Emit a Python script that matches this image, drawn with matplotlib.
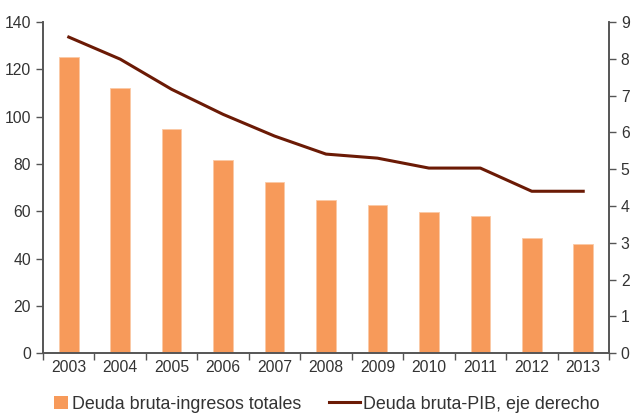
import numpy as np
import matplotlib.pyplot as plt
from matplotlib.lines import Line2D
from matplotlib.patches import Patch

plt.rcParams['font.family'] = ['Liberation Sans', 'DejaVu Sans']

years = ['2003', '2004', '2005', '2006', '2007', '2008', '2009', '2010', '2011', '2012', '2013']
deuda_ingresos = [125.2, 112.1, 94.8, 81.6, 72.3, 64.7, 62.8, 59.5, 58.1, 48.5, 46.0]
deuda_pib = [8.59, 7.99, 7.17, 6.49, 5.90, 5.41, 5.30, 5.03, 5.03, 4.40, 4.40]

bar_color = '#F79A5A'
line_color = '#6B1A05'
axis_color = '#555555'
text_color = '#333333'

fig = plt.figure(figsize=(6.33, 4.15), dpi=100)
ax = fig.add_axes([0.068, 0.149, 0.894, 0.798])
x = np.arange(len(years))

ax.bar(x, deuda_ingresos, width=0.38, color=bar_color, edgecolor='#FBC9A5', linewidth=0.6, zorder=2)
ax.set_xlim(-0.5, len(years) - 0.5)
ax.set_ylim(0, 140)
ax.set_yticks(range(0, 141, 20))
ax.set_xticks(x)
ax.set_xticklabels(years)
ax.set_xticks(np.arange(-0.5, len(years), 1), minor=True)
ax.tick_params(axis='x', which='major', length=0, pad=5, labelsize=11.3, labelcolor=text_color)
ax.tick_params(axis='x', which='minor', length=5, direction='out', color=axis_color, width=1)
ax.tick_params(axis='y', length=5, direction='out', color=axis_color, width=1, labelsize=11.3, labelcolor=text_color)

ax2 = ax.twinx()
ax2.plot(x, deuda_pib, color=line_color, linewidth=2.2, zorder=3)
ax2.set_ylim(0, 9)
ax2.set_yticks(range(0, 10))
ax2.tick_params(axis='y', length=5, direction='out', color=axis_color, width=1, labelsize=11.3, labelcolor=text_color)

for a in (ax, ax2):
    a.spines['top'].set_visible(False)
    for s in ('left', 'right', 'bottom'):
        a.spines[s].set_color(axis_color)
        a.spines[s].set_linewidth(1.2)

# two legend entries placed separately so the line handle can be longer
leg1 = fig.legend([Patch(facecolor=bar_color, edgecolor='none')], ['Deuda bruta-ingresos totales'],
                  loc='center left', bbox_to_anchor=(0.085, 0.026), frameon=False, fontsize=12.9,
                  handlelength=0.8, handleheight=0.8, handletextpad=0.2, borderpad=0, borderaxespad=0,
                  labelcolor=text_color)
leg2 = fig.legend([Line2D([0], [0], color=line_color, linewidth=2.2)], ['Deuda bruta-PIB, eje derecho'],
                  loc='center left', bbox_to_anchor=(0.52, 0.026), frameon=False, fontsize=12.9,
                  handlelength=1.7, handletextpad=0.17, borderpad=0, borderaxespad=0,
                  labelcolor=text_color)

fig.savefig('out.png', dpi=100)
